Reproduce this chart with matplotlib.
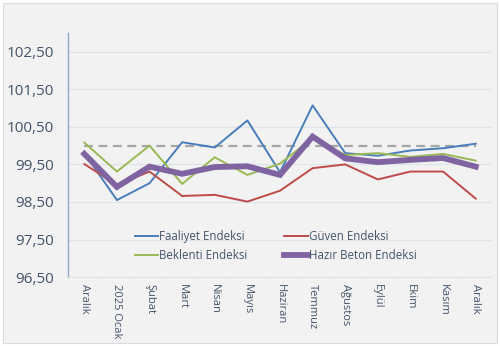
import matplotlib.pyplot as plt
from matplotlib.patches import Rectangle
from matplotlib.ticker import FixedLocator, FuncFormatter

months = ['Aralık', '2025 Ocak', 'Şubat', 'Mart', 'Nisan', 'Mayıs', 'Haziran',
          'Temmuz', 'Ağustos', 'Eylül', 'Ekim', 'Kasım', 'Aralık']

faaliyet = [99.80, 98.55, 99.00, 100.09, 99.95, 100.67, 99.29, 101.07, 99.80, 99.73, 99.87, 99.93, 100.05]
guven = [99.51, 98.95, 99.31, 98.66, 98.69, 98.51, 98.80, 99.40, 99.50, 99.10, 99.31, 99.31, 98.59]
beklenti = [100.08, 99.31, 100.00, 98.98, 99.69, 99.22, 99.52, 100.20, 99.75, 99.80, 99.70, 99.78, 99.60]
hazir_beton = [99.78, 98.90, 99.44, 99.25, 99.43, 99.45, 99.22, 100.24, 99.66, 99.56, 99.62, 99.67, 99.44]
reference = [100.0] * len(months)

y_ticks = [96.5, 97.5, 98.5, 99.5, 100.5, 101.5, 102.5]

bg = '#f2f2f2'
text_color = '#44546a'

fig = plt.figure(figsize=(5.0, 3.46), dpi=100, facecolor='white')
# outer chart area with thin border
fig.patches.append(Rectangle((0.006, 0.009), 0.988, 0.982, transform=fig.transFigure,
                             facecolor=bg, edgecolor='#d9dde3', linewidth=0.8, zorder=-10))
ax = fig.add_axes([0.136, 0.199, 0.848, 0.706])
ax.set_facecolor(bg)

x = list(range(len(months)))
ax.plot(x, reference, color='#a6a6a6', linestyle=(0, (4, 2.5)), linewidth=1.6, zorder=2)
l1, = ax.plot(x, faaliyet, color='#4a7ebb', linewidth=1.4, label='Faaliyet Endeksi', zorder=3)
l2, = ax.plot(x, guven, color='#be4b48', linewidth=1.4, label='Güven Endeksi', zorder=3)
l3, = ax.plot(x, beklenti, color='#98b954', linewidth=1.4, label='Beklenti Endeksi', zorder=3)
l4, = ax.plot(x, hazir_beton, color='#8064a2', linewidth=4.2, label='Hazır Beton Endeksi',
              zorder=4, solid_joinstyle='miter')

ax.set_xlim(-0.5, len(months) - 0.5)
ax.set_ylim(96.5, 103.0)
ax.yaxis.set_major_locator(FixedLocator(y_ticks))
ax.yaxis.set_major_formatter(FuncFormatter(lambda v, p: f'{v:.2f}'.replace('.', ',')))
ax.grid(axis='y', color='#dfe3ea', linewidth=0.9, zorder=0)

ax.set_xticks(x)
ax.set_xticklabels(months, rotation=-90, fontsize=8, color=text_color, family='Open Sans')
ax.set_xticks([i + 0.5 for i in x[:-1]], minor=True)
ax.tick_params(axis='x', which='major', length=0, pad=5)
ax.tick_params(axis='x', which='minor', length=3, color='#dfe3ea')
ax.tick_params(axis='y', length=0, pad=10, labelsize=11, labelcolor=text_color)
for lab in ax.get_yticklabels():
    lab.set_family('Open Sans')

for side in ['top', 'right']:
    ax.spines[side].set_visible(False)
ax.spines['bottom'].set_color('#dfe3ea')
ax.spines['left'].set_color('#8eaacb')
ax.spines['left'].set_linewidth(1.0)

# column-wise fill: Faaliyet/Beklenti left, Güven/Hazır Beton right
leg = ax.legend(handles=[l1, l3, l2, l4], ncol=2, frameon=False, loc='lower center',
                bbox_to_anchor=(0.49, 0.02), handlelength=2.0, handletextpad=0.15,
                columnspacing=3.2, labelspacing=0.55,
                prop={'family': 'Open Sans', 'size': 8.3})
for t in leg.get_texts():
    t.set_color(text_color)

fig.savefig('out.png', dpi=100, facecolor='white')
